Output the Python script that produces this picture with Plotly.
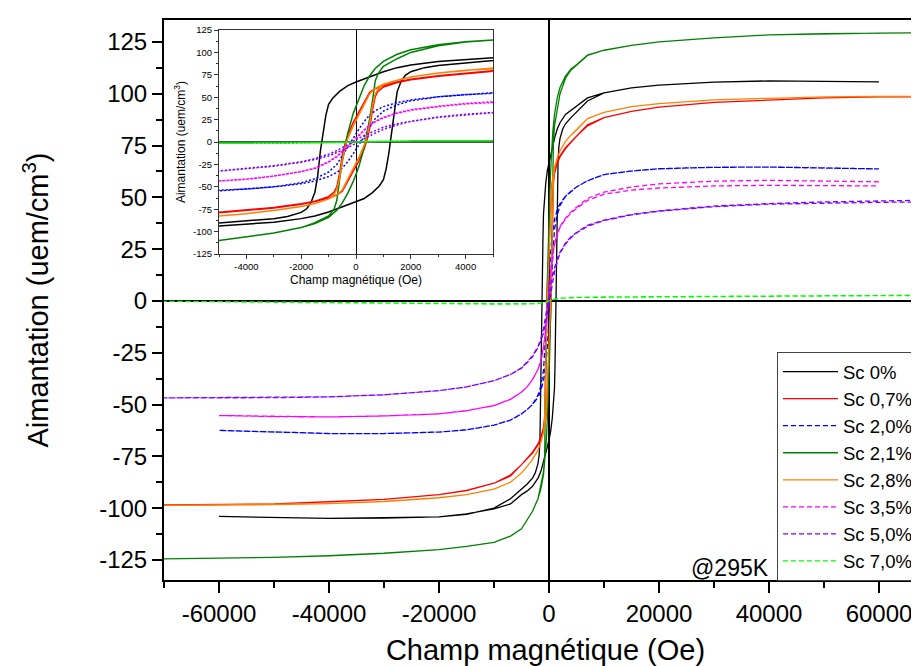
import plotly.graph_objects as go

# ---------------- data (field in Oe, magnetisation in uem/cm3) ----------------
GRID_A = [70000, 60000, 50000, 40000, 30000, 20000, 15000, 10000, 7000, 5000, 4000, 3000, 2000, 1500, 1000, 700, 500, 300, 100, -100,
          -300, -400, -500, -600, -700, -800, -1000, -1500, -2000, -3000, -4000, -5000, -7000, -10000, -15000, -20000, -30000, -40000, -50000, -60000, -70000]
GRID_A_ASC = [-70000, -60000, -50000, -40000, -30000, -20000, -15000, -10000, -7000, -5000, -4000, -3000, -2000, -1500, -1000, -700, -500, -300, -100, 100,
              300, 400, 500, 600, 700, 800, 1000, 1500, 2000, 3000, 4000, 5000, 7000, 10000, 15000, 20000, 30000, 40000, 50000, 60000, 70000]
GRID_B = [60000, 50000, 40000, 30000, 20000, 15000, 10000, 7000, 5000, 4000, 3000, 2000, 1500, 1000, 700, 500, 300, 100, -100, -300,
          -500, -700, -1000, -1500, -2000, -3000, -4000, -5000, -7000, -10000, -15000, -20000, -30000, -40000, -50000, -60000]
GRID_B_ASC = [-60000, -50000, -40000, -30000, -20000, -15000, -10000, -7000, -5000, -4000, -3000, -2000, -1500, -1000, -700, -500, -300, -100, 100, 300,
              500, 700, 1000, 1500, 2000, 3000, 4000, 5000, 7000, 10000, 15000, 20000, 30000, 40000, 50000, 60000]

# Sc 0%
sc00_h_desc = [60000, 50000, 40000, 30000, 20000, 15000, 10000, 7000, 5000, 4000, 3000, 2000, 1500, 1000, 500, 0, -300, -600, -850, -1000,
               -1100, -1200, -1300, -1400, -1500, -1650, -1800, -2000, -2500, -3000, -4000, -5000, -7000, -10000, -15000, -20000, -30000, -40000, -50000, -60000]
sc00_m_desc = [105.7, 106.0, 106.2, 105.6, 104.2, 102.8, 100.4, 98.0, 94.0, 92.3, 90.0, 86.0, 83.0, 78.5, 73.0, 67.0, 63.0, 56.5, 49.0, 42.0,
               30.0, 12.0, -10.0, -38.0, -56.0, -68.0, -74.5, -78.5, -83.0, -85.5, -88.5, -91.0, -95.5, -100.0, -103.0, -104.2, -104.8, -105.0, -104.6, -104.0]
sc00_h_asc = [-60000, -40000, -20000, -15000, -10000, -7000, -5000, -4000, -3000, -2000, -1500, -1000, -500, 0, 300, 600, 850, 1000, 1100, 1200,
              1300, 1400, 1500, 1650, 1800, 2000, 2500, 3000, 4000, 5000, 7000, 10000]
sc00_m_asc = [-104.0, -105.0, -104.2, -102.8, -100.4, -98.0, -93.5, -91.8, -89.5, -85.5, -82.5, -78.0, -72.5, -67.0, -63.0, -56.5, -49.0, -42.0, -30.0, -12.0,
              10.0, 38.0, 56.0, 68.0, 74.5, 78.5, 83.0, 85.5, 88.5, 91.0, 96.5, 100.4]

# Sc 0,7%
sc07_m_desc = [98.6, 98.5, 98.0, 97.0, 95.8, 93.5, 91.5, 88.5, 85.0, 79.5, 77.0, 74.0, 70.0, 67.0, 63.0, 59.5, 55.5, 45.0, 33.0, 22.0,
               8.0, -2.0, -15.0, -35.0, -50.0, -56.0, -61.0, -66.0, -69.0, -73.0, -76.0, -79.0, -84.0, -88.0, -91.5, -93.5, -95.8, -97.0, -98.0, -98.3, -98.5]
sc07_m_asc = [-98.5, -98.3, -98.0, -97.0, -95.8, -93.5, -91.5, -88.0, -84.5, -79.0, -76.5, -73.5, -69.5, -66.5, -62.5, -59.0, -55.0, -44.5, -32.5, -21.5,
              -7.5, 2.5, 15.5, 35.5, 50.5, 56.5, 61.5, 66.5, 69.5, 73.5, 76.5, 79.5, 84.5, 88.5, 91.5, 93.5, 95.8, 97.0, 98.0, 98.5, 98.6]

# Sc 2,0%
sc20_m_desc = [63.7, 64.2, 64.6, 64.5, 63.8, 62.7, 61.0, 58.0, 55.0, 53.0, 50.5, 47.0, 44.0, 39.5, 35.0, 30.0, 23.0, 14.0, 4.0, -6.0,
               -16.0, -25.0, -33.5, -41.0, -45.5, -50.0, -52.5, -54.5, -57.5, -60.0, -62.2, -63.3, -64.0, -64.0, -63.3, -62.5]
sc20_m_asc = [-62.5, -63.3, -64.0, -64.0, -63.3, -62.2, -60.0, -57.5, -54.5, -52.5, -50.0, -46.5, -43.5, -38.5, -34.0, -29.0, -22.0, -13.0, -3.0, 7.0,
              17.0, 26.0, 34.5, 41.5, 46.0, 50.5, 53.0, 55.0, 58.0, 61.0, 62.7, 63.8, 64.5, 64.6, 64.2, 63.7]

# Sc 2,1%
sc21_m_desc = [129.5, 129.3, 129.0, 128.4, 127.0, 125.0, 123.3, 121.0, 118.7, 114.0, 112.0, 108.5, 103.0, 98.0, 90.0, 82.0, 74.0, 63.0, 48.0, 32.0,
               10.0, -5.0, -22.0, -42.0, -65.0, -75.0, -82.5, -90.0, -95.5, -101.5, -106.0, -110.0, -113.5, -116.5, -118.5, -120.0, -121.8, -123.0, -123.8, -124.2, -124.5]
sc21_m_asc = [-124.5, -124.2, -123.8, -123.0, -121.8, -120.0, -118.5, -116.5, -113.5, -110.0, -106.0, -101.5, -95.5, -91.0, -84.0, -76.0, -68.0, -57.0, -44.0, -28.0,
              -6.0, 9.0, 26.0, 46.0, 68.0, 76.0, 84.5, 93.0, 100.0, 107.5, 111.5, 113.8, 118.5, 121.0, 123.3, 125.0, 127.0, 128.4, 129.0, 129.3, 129.5]

# Sc 2,8%
sc28_m_desc = [98.8, 98.7, 98.5, 97.8, 97.0, 95.2, 93.8, 91.0, 88.0, 82.5, 80.0, 77.0, 72.5, 69.0, 64.5, 60.0, 54.0, 42.0, 30.0, 18.0,
               4.0, -6.0, -20.0, -40.0, -53.0, -58.0, -63.5, -68.5, -72.0, -76.5, -80.0, -83.0, -87.5, -90.8, -93.5, -95.0, -96.8, -97.8, -98.3, -98.5, -98.7]
sc28_m_asc = [-98.7, -98.5, -98.3, -97.8, -96.8, -95.0, -93.5, -90.8, -87.5, -83.0, -80.0, -76.5, -72.0, -68.5, -63.5, -59.0, -53.5, -41.5, -29.5, -17.5,
              -3.5, 6.5, 20.5, 40.5, 53.5, 58.5, 64.0, 69.0, 72.5, 77.0, 80.0, 82.5, 88.0, 91.0, 93.8, 95.2, 97.0, 97.8, 98.5, 98.7, 98.8]

# Sc 3,5%
sc35_m_desc = [57.5, 58.0, 58.2, 57.8, 56.5, 55.0, 52.5, 49.5, 45.0, 43.0, 40.0, 36.0, 32.5, 27.5, 23.0, 19.0, 13.5, 7.5, 1.0, -5.0,
               -11.0, -16.0, -22.0, -29.0, -33.0, -38.0, -41.5, -44.0, -47.5, -50.5, -53.0, -54.5, -55.5, -56.0, -55.8, -55.3]
sc35_m_asc = [-55.3, -55.8, -56.0, -55.5, -54.5, -53.0, -50.5, -47.5, -44.0, -41.5, -38.0, -33.0, -29.5, -22.5, -16.5, -11.5, -5.5, 0.5, 7.0, 13.0,
              18.5, 22.5, 27.0, 32.0, 35.5, 39.5, 42.5, 44.5, 48.5, 51.5, 53.5, 54.5, 55.5, 55.8, 55.7, 55.5]

# Sc 5,0%
sc50_m_desc = [48.7, 48.3, 47.8, 47.0, 45.8, 43.5, 41.8, 39.0, 36.5, 33.0, 31.0, 28.0, 23.5, 20.5, 16.5, 13.0, 10.5, 7.5, 4.0, 0.5,
               -3.0, -5.0, -6.5, -8.0, -9.5, -11.0, -13.5, -18.5, -22.0, -26.5, -29.5, -32.3, -35.5, -38.5, -41.5, -43.3, -45.3, -46.3, -46.7, -46.8, -46.8]
sc50_m_asc = [-46.8, -46.8, -46.7, -46.3, -45.3, -43.3, -41.5, -38.5, -35.5, -32.5, -29.8, -27.0, -22.5, -19.5, -15.5, -12.0, -9.5, -6.5, -3.0, 0.5,
              4.0, 5.5, 7.0, 8.5, 10.0, 11.5, 14.0, 19.0, 23.0, 27.5, 30.5, 32.8, 36.0, 38.8, 41.5, 43.3, 45.5, 46.7, 47.3, 47.6, 47.8]

# Sc 7,0%
sc70_h_desc = [70000, 50000, 30000, 20000, 10000, 5000, 3000, 2000, 1000, 500, 0, -500, -1000, -2000, -3000, -5000, -10000, -20000, -30000, -50000, -70000]
sc70_m_desc = [2.7, 2.5, 2.3, 2.1, 1.9, 1.7, 1.5, 1.3, 0.9, 0.5, 0.0, -0.5, -0.9, -1.2, -1.4, -1.5, -1.5, -1.3, -1.0, -0.6, -0.2]
sc70_h_asc = [-70000, -50000, -30000, -20000, -10000, -5000, -3000, -2000, -1000, -500, 0, 500, 1000, 2000, 3000, 5000, 10000, 20000, 30000, 50000, 70000]
sc70_m_asc = [-0.2, -0.6, -1.0, -1.3, -1.5, -1.5, -1.4, -1.2, -0.9, -0.5, 0.0, 0.5, 0.9, 1.3, 1.5, 1.7, 1.9, 2.1, 2.3, 2.5, 2.7]

series_names = ["Sc 0%", "Sc 0,7%", "Sc 2,0%", "Sc 2,1%", "Sc 2,8%", "Sc 3,5%", "Sc 5,0%", "Sc 7,0%"]

x_tick_vals = [-60000, -40000, -20000, 0, 20000, 40000, 60000]
x_tick_text = ["-60000", "-40000", "-20000", "0", "20000", "40000", "60000"]
y_tick_vals = [-125, -100, -75, -50, -25, 0, 25, 50, 75, 100, 125]
y_tick_text = ["-125", "-100", "-75", "-50", "-25", "0", "25", "50", "75", "100", "125"]
ix_tick_vals = [-4000, -2000, 0, 2000, 4000]
ix_tick_text = ["-4000", "-2000", "0", "2000", "4000"]

# ---------------- figure ----------------
curves = [
    (sc00_h_desc + sc00_h_asc, sc00_m_desc + sc00_m_asc),
    (GRID_A + GRID_A_ASC, sc07_m_desc + sc07_m_asc),
    (GRID_B + GRID_B_ASC, sc20_m_desc + sc20_m_asc),
    (GRID_A + GRID_A_ASC, sc21_m_desc + sc21_m_asc),
    (GRID_A + GRID_A_ASC, sc28_m_desc + sc28_m_asc),
    (GRID_B + GRID_B_ASC, sc35_m_desc + sc35_m_asc),
    (GRID_A + GRID_A_ASC, sc50_m_desc + sc50_m_asc),
    (sc70_h_desc + sc70_h_asc, sc70_m_desc + sc70_m_asc),
]
colors = ["#000000", "#ff0000", "#0000ff", "#008000", "#ff8000", "#ff00ff", "#8000ff", "#00ff00"]
dashed = [False, False, True, False, False, True, True, True]

FONT = "Liberation Sans, Arial, sans-serif"
fig = go.Figure()

for (hx, my), name, c, d in zip(curves, series_names, colors, dashed):
    fig.add_trace(go.Scatter(x=hx, y=my, mode="lines", name=name, xaxis="x", yaxis="y",
                             line=dict(color=c, width=1.3, dash="5px,3px" if d else "solid")))
for (hx, my), name, c, d in zip(curves, series_names, colors, dashed):
    fig.add_trace(go.Scatter(x=hx, y=my, mode="lines", name=name, xaxis="x2", yaxis="y2", showlegend=False,
                             line=dict(color=c, width=1.5, dash="2px,2px" if d else "solid")))

fig.update_layout(
    width=919, height=666,
    margin=dict(l=156, r=0, t=12, b=94, autoexpand=False),
    paper_bgcolor="white", plot_bgcolor="white",
    font=dict(family=FONT, color="black"),
    xaxis=dict(domain=[0, 1], range=[-70000, 68727], anchor="y",
               tickmode="array", tickvals=x_tick_vals, ticktext=x_tick_text,
               tickfont=dict(size=24), ticks="outside", ticklen=11, tickwidth=1.5, tickcolor="black",
               minor=dict(tickmode="linear", tick0=0, dtick=10000, ticks="outside", ticklen=6, tickwidth=1.5, tickcolor="black"),
               showline=True, linewidth=2, linecolor="black", mirror=True, showgrid=False,
               zeroline=True, zerolinecolor="black", zerolinewidth=2,
               title=dict(text="Champ magnétique (Oe)", font=dict(size=29), standoff=14)),
    yaxis=dict(domain=[0, 1], range=[-134.7, 135.6], anchor="x",
               tickmode="array", tickvals=y_tick_vals, ticktext=y_tick_text,
               tickfont=dict(size=24), ticks="outside", ticklen=10, tickwidth=1.5, tickcolor="black",
               minor=dict(tickmode="linear", tick0=0, dtick=12.5, ticks="outside", ticklen=6, tickwidth=1.5, tickcolor="black"),
               showline=True, linewidth=2, linecolor="black", mirror=False, showgrid=False,
               zeroline=True, zerolinecolor="black", zerolinewidth=2,
               title=dict(text="Aimantation (uem/cm<sup>3</sup>)", font=dict(size=29), standoff=42)),
    xaxis2=dict(domain=[0.0721, 0.4312], range=[-5000, 5000], anchor="y2",
                tickmode="array", tickvals=ix_tick_vals, ticktext=ix_tick_text,
                tickfont=dict(size=9.5), ticks="outside", ticklen=4, tickwidth=1, tickcolor="#333",
                minor=dict(tickmode="linear", tick0=0, dtick=1000, ticks="outside", ticklen=2, tickwidth=1, tickcolor="#333"),
                showline=True, linewidth=1, linecolor="#333", mirror=True, showgrid=False,
                zeroline=True, zerolinecolor="black", zerolinewidth=1,
                title=dict(text="Champ magnétique (Oe)", font=dict(size=12), standoff=4)),
    yaxis2=dict(domain=[0.5821, 0.9821], range=[-125, 125], anchor="x2",
                tickmode="array", tickvals=y_tick_vals, ticktext=y_tick_text,
                tickfont=dict(size=9.5), ticks="outside", ticklen=4, tickwidth=1, tickcolor="#333",
                minor=dict(tickmode="linear", tick0=0, dtick=12.5, ticks="outside", ticklen=2, tickwidth=1, tickcolor="#333"),
                showline=True, linewidth=1, linecolor="#333", mirror=True, showgrid=False,
                zeroline=True, zerolinecolor="#555", zerolinewidth=2,
                title=dict(text="Aimantation (uem/cm<sup>3</sup>)", font=dict(size=12), standoff=4)),
    legend=dict(x=0.8034, y=0.407, xanchor="left", yanchor="top", bgcolor="white",
                bordercolor="#444", borderwidth=1, font=dict(size=18.5, color="black"),
                itemwidth=55, tracegroupgap=0),
    annotations=[dict(text="@295K", x=0.742, y=0.021, xref="paper", yref="paper",
                      xanchor="center", yanchor="middle", showarrow=False, font=dict(size=23))],
)

fig.write_html("out.html")
